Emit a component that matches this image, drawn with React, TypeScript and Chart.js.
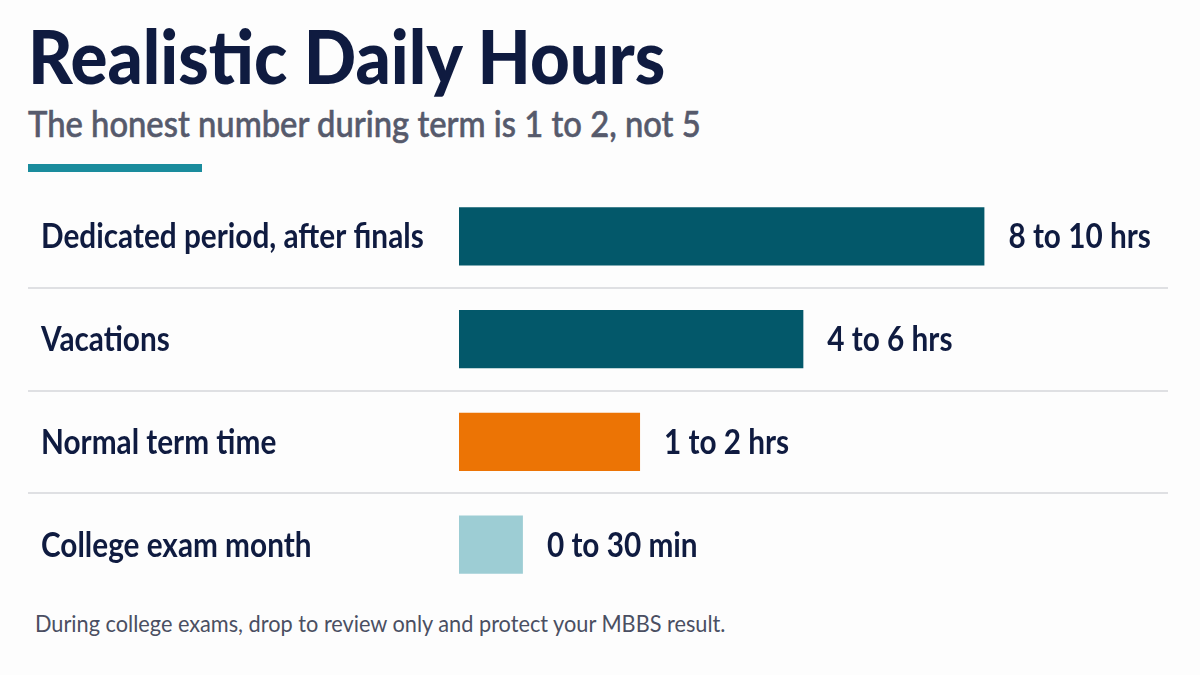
import React, { useEffect, useRef } from "react";
import { Chart, registerables } from "chart.js";

Chart.register(...registerables);

// ---- data ----
const categories = [
  "Dedicated period, after finals",
  "Vacations",
  "Normal term time",
  "College exam month",
];
const values = [74, 48.5, 25.5, 9];
const valueLabels = ["8 to 10 hrs", "4 to 6 hrs", "1 to 2 hrs", "0 to 30 min"];
const barColors = ["#03586a", "#03586a", "#ec7405", "#9dcdd4"];
const xMin = 0;
const xMax = 100;

const titleText = "Realistic Daily Hours";
const subtitleText = "The honest number during term is 1 to 2, not 5";
const footerText =
  "During college exams, drop to review only and protect your MBBS result.";

// ---- style ----
const NAVY = "#0f1b40";
const FONT = "Lato, 'Noto Sans', sans-serif";
const LABEL_SIZE = 35;
const LABEL_SX = 0.85;

function drawCondensed(
  ctx: CanvasRenderingContext2D,
  text: string,
  x: number,
  yCenter: number,
  size: number,
  sx: number
) {
  ctx.save();
  ctx.font = `700 ${size}px ${FONT}`;
  ctx.fillStyle = NAVY;
  ctx.textAlign = "left";
  ctx.textBaseline = "alphabetic";
  ctx.translate(x, yCenter + size * 0.34);
  ctx.scale(sx, 1);
  ctx.fillText(text, 0, 0);
  ctx.restore();
}

const rowPlugin = {
  id: "rowDecor",
  beforeDatasetsDraw(chart: any) {
    const { ctx } = chart;
    const y = chart.scales.y;
    ctx.save();
    ctx.strokeStyle = "#dfe0e3";
    ctx.lineWidth = 2;
    for (let i = 0; i < categories.length - 1; i++) {
      const yy = Math.round((y.getPixelForValue(i) + y.getPixelForValue(i + 1)) / 2);
      ctx.beginPath();
      ctx.moveTo(28, yy);
      ctx.lineTo(1168, yy);
      ctx.stroke();
    }
    ctx.restore();
  },
  afterDatasetsDraw(chart: any) {
    const { ctx } = chart;
    const meta = chart.getDatasetMeta(0);
    meta.data.forEach((bar: any, i: number) => {
      drawCondensed(ctx, categories[i], 41, bar.y, LABEL_SIZE, LABEL_SX);
      drawCondensed(ctx, valueLabels[i], bar.x + 24, bar.y, LABEL_SIZE, LABEL_SX);
    });
  },
};

export default function App() {
  const ref = useRef<HTMLCanvasElement>(null);

  useEffect(() => {
    document.body.style.margin = "0";
    const chart = new Chart(ref.current!, {
      type: "bar",
      data: {
        labels: categories,
        datasets: [
          {
            data: values,
            backgroundColor: barColors,
            borderWidth: 0,
            barPercentage: 0.565,
            categoryPercentage: 1,
          },
        ],
      },
      options: {
        indexAxis: "y",
        animation: false,
        responsive: false,
        layout: { padding: { left: 459, right: 31, top: 0, bottom: 0 } },
        scales: {
          x: { display: false, min: xMin, max: xMax },
          y: { display: false },
        },
        plugins: {
          legend: { display: false },
          tooltip: { enabled: false },
        },
      },
      plugins: [rowPlugin],
    });
    return () => chart.destroy();
  }, []);

  return (
    <div
      style={{
        position: "fixed",
        left: 0,
        top: 0,
        width: 1200,
        height: 675,
        background: "#fdfdfd",
        overflow: "hidden",
        fontFamily: FONT,
      }}
    >
      <div
        style={{
          position: "absolute",
          left: 28,
          top: 18,
          fontSize: 75,
          fontWeight: 900,
          lineHeight: 1,
          color: NAVY,
          whiteSpace: "nowrap",
          transform: "scaleX(0.92)",
          transformOrigin: "left top",
        }}
      >
        {titleText}
      </div>
      <div
        style={{
          position: "absolute",
          left: 28,
          top: 104,
          fontSize: 37,
          fontWeight: 500,
          lineHeight: 1,
          color: "#565a6c",
          whiteSpace: "nowrap",
          WebkitTextStroke: "0.6px #565a6c",
          transform: "scaleX(0.885)",
          transformOrigin: "left top",
        }}
      >
        {subtitleText}
      </div>
      <div
        style={{
          position: "absolute",
          left: 28,
          top: 164,
          width: 174,
          height: 8,
          background: "#1a8c9d",
        }}
      />
      <canvas
        ref={ref}
        width={1200}
        height={411}
        style={{ position: "absolute", left: 0, top: 185, width: 1200, height: 411 }}
      />
      <div
        style={{
          position: "absolute",
          left: 35,
          top: 611,
          fontSize: 24,
          fontWeight: 400,
          lineHeight: 1,
          color: "#4a4f62",
          whiteSpace: "nowrap",
          transform: "scaleX(0.905)",
          transformOrigin: "left top",
        }}
      >
        {footerText}
      </div>
    </div>
  );
}
